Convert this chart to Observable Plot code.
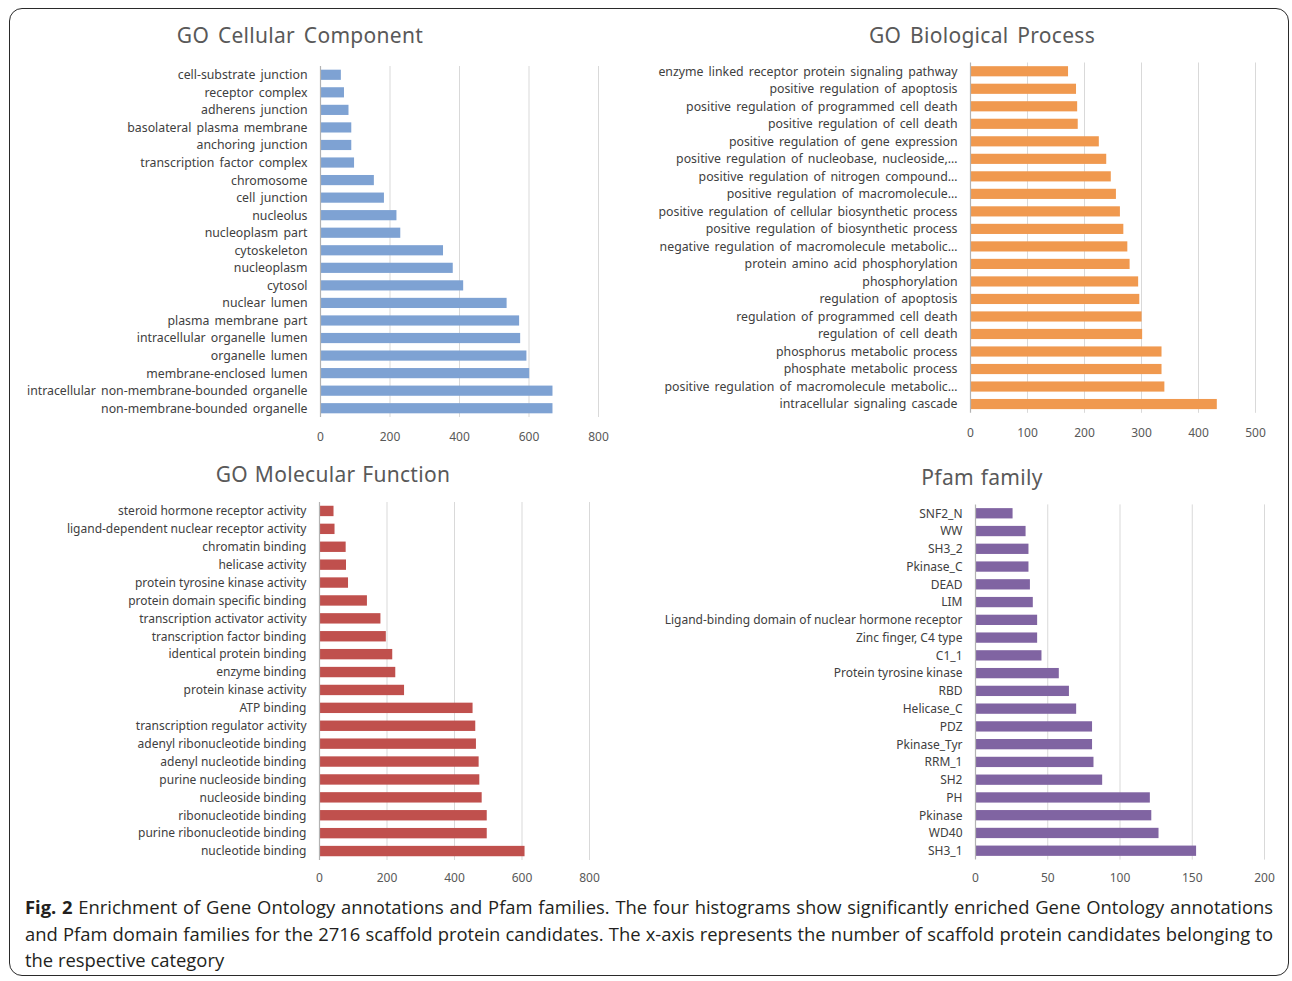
<!DOCTYPE html>
<html>
<head>
<meta charset="utf-8">
<script src="https://cdn.jsdelivr.net/npm/d3@7"></script>
<script src="https://cdn.jsdelivr.net/npm/@observablehq/plot@0.6"></script>
<style>
  html, body { margin: 0; padding: 0; background: #fff; }
  body { width: 1292px; height: 981px; position: relative; overflow: hidden; font-family: "Noto Sans", sans-serif; }
  .frame { position: absolute; left: 9px; top: 8px; width: 1280px; height: 968px; border: 1.5px solid #2a2a2a; border-radius: 13px; box-sizing: border-box; }
  .panel { position: absolute; }
  .title { position: absolute; transform: translate(-50%, -50%); font-family: "Noto Sans", sans-serif; font-size: 21px; color: #595959; white-space: nowrap; letter-spacing: 0.3px; }
  .caption { position: absolute; left: 25px; top: 894px; width: 1248px; font-family: "Open Sans", sans-serif; font-size: 18.4px; color: #231f20; line-height: 26.5px; }
  .caption div { white-space: nowrap; }
  .caption .j { text-align: justify; text-align-last: justify; white-space: normal; }
</style>
</head>
<body>
<div class="frame"></div>
<div id="root"></div>
<script>
// GO Cellular Component
const ccLabels = ["cell-substrate junction","receptor complex","adherens junction","basolateral plasma membrane","anchoring junction","transcription factor complex","chromosome","cell junction","nucleolus","nucleoplasm part","cytoskeleton","nucleoplasm","cytosol","nuclear lumen","plasma membrane part","intracellular organelle lumen","organelle lumen","membrane-enclosed lumen","intracellular non-membrane-bounded organelle","non-membrane-bounded organelle"];
const ccValues = [60,69,82,90,90,98,155,184,220,231,354,382,412,537,573,576,594,602,669,669];
const ccTicks = [0,200,400,600,800];

// GO Biological Process
const bpLabels = ["enzyme linked receptor protein signaling pathway","positive regulation of apoptosis","positive regulation of programmed cell death","positive regulation of cell death","positive regulation of gene expression","positive regulation of nucleobase, nucleoside,…","positive regulation of nitrogen compound…","positive regulation of macromolecule…","positive regulation of cellular biosynthetic process","positive regulation of biosynthetic process","negative regulation of macromolecule metabolic…","protein amino acid phosphorylation","phosphorylation","regulation of apoptosis","regulation of programmed cell death","regulation of cell death","phosphorus metabolic process","phosphate metabolic process","positive regulation of macromolecule metabolic…","intracellular signaling cascade"];
const bpValues = [172,186,188,189,226,239,247,256,263,269,276,280,295,297,301,302,336,336,341,433];
const bpTicks = [0,100,200,300,400,500];

// GO Molecular Function
const mfLabels = ["steroid hormone receptor activity","ligand-dependent nuclear receptor activity","chromatin binding","helicase activity","protein tyrosine kinase activity","protein domain specific binding","transcription activator activity","transcription factor binding","identical protein binding","enzyme binding","protein kinase activity","ATP binding","transcription regulator activity","adenyl ribonucleotide binding","adenyl nucleotide binding","purine nucleoside binding","nucleoside binding","ribonucleotide binding","purine ribonucleotide binding","nucleotide binding"];
const mfValues = [43,46,79,80,86,142,182,198,217,226,252,455,463,465,473,475,482,497,497,609];
const mfTicks = [0,200,400,600,800];

// Pfam family
const pfLabels = ["SNF2_N","WW","SH3_2","Pkinase_C","DEAD","LIM","Ligand-binding domain of nuclear hormone receptor","Zinc finger, C4 type","C1_1","Protein tyrosine kinase","RBD","Helicase_C","PDZ","Pkinase_Tyr","RRM_1","SH2","PH","Pkinase","WD40","SH3_1"];
const pfValues = [26,35,37,37,38,40,43,43,46,58,65,70,81,81,82,88,121,122,127,153];
const pfTicks = [0,50,100,150,200];

const root = document.getElementById("root");

function panel({labels, values, ticks, color, title, left, top, width, height, mt, mb, ml, mr, tickPad, titleX, titleY, wordSpacing, titleSpacing, labelSize}) {
  const data = labels.map((l, i) => ({label: l, value: values[i]}));
  const chart = Plot.plot({
    width, height,
    marginTop: mt, marginBottom: mb, marginLeft: ml, marginRight: mr,
    style: {fontFamily: "Noto Sans, sans-serif", fontSize: "12px", color: "#404040", background: "transparent", wordSpacing: wordSpacing},
    x: {domain: [ticks[0], ticks[ticks.length - 1]], ticks: ticks, label: null},
    y: {domain: labels, label: null, paddingInner: 0.42, paddingOuter: 0.21, round: false},
    marks: [
      Plot.gridX(ticks.slice(1), {stroke: "#d9d9d9", strokeOpacity: 1, strokeWidth: 1}),
      Plot.barX(data, {x: "value", y: "label", fill: color}),
      Plot.ruleX([0], {stroke: "#b3b3b3", strokeWidth: 1.2}),
      Plot.axisX({ticks: ticks, tickSize: 0, tickPadding: tickPad, fontSize: 12, fill: "#595959", label: null, tickFormat: d => String(d)}),
      Plot.axisY({tickSize: 0, tickPadding: 13, fontSize: labelSize, fill: "#404040", label: null})
    ]
  });
  const div = document.createElement("div");
  div.className = "panel";
  div.style.left = left + "px";
  div.style.top = top + "px";
  div.appendChild(chart);
  root.appendChild(div);
  const t = document.createElement("div");
  t.className = "title";
  t.textContent = title;
  t.style.left = titleX + "px";
  t.style.top = titleY + "px";
  t.style.wordSpacing = titleSpacing;
  root.appendChild(t);
}

panel({labels: ccLabels, values: ccValues, ticks: ccTicks, color: "#7ea2d3", title: "GO Cellular Component",
  left: 10, top: 55, width: 610, height: 395, mt: 11, mb: 33, ml: 310, mr: 22, tickPad: 15, titleX: 300, titleY: 35, wordSpacing: "2px", titleSpacing: "3px", labelSize: 12.3});
panel({labels: bpLabels, values: bpValues, ticks: bpTicks, color: "#f0994f", title: "GO Biological Process",
  left: 640, top: 55, width: 650, height: 395, mt: 7.5, mb: 37.2, ml: 330, mr: 35, tickPad: 15, titleX: 982, titleY: 35, wordSpacing: "2px", titleSpacing: "3px", labelSize: 12.3});
panel({labels: mfLabels, values: mfValues, ticks: mfTicks, color: "#c0504d", title: "GO Molecular Function",
  left: 10, top: 490, width: 610, height: 400, mt: 12, mb: 30, ml: 309, mr: 31, tickPad: 13, titleX: 333, titleY: 474, wordSpacing: "0px", titleSpacing: "1px", labelSize: 12});
panel({labels: pfLabels, values: pfValues, ticks: pfTicks, color: "#8064a2", title: "Pfam family",
  left: 640, top: 490, width: 650, height: 400, mt: 14.4, mb: 30.4, ml: 335, mr: 26, tickPad: 13, titleX: 982, titleY: 477, wordSpacing: "0px", titleSpacing: "1px", labelSize: 12});
</script>
<div class="caption">
  <div class="j"><b>Fig. 2</b> Enrichment of Gene Ontology annotations and Pfam families. The four histograms show significantly enriched Gene Ontology annotations</div>
  <div class="j">and Pfam domain families for the 2716 scaffold protein candidates. The x-axis represents the number of scaffold protein candidates belonging to</div>
  <div>the respective category</div>
</div>
</body>
</html>
